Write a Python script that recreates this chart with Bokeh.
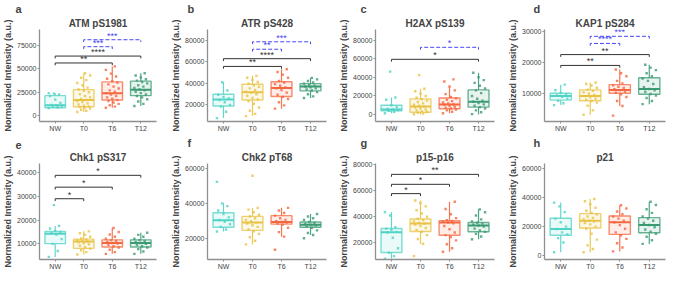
from bokeh.plotting import figure
from bokeh.layouts import row, column
from bokeh.models import Range1d, FixedTicker, PrintfTickFormatter, Title
from bokeh.core.properties import value
from bokeh.embed import file_html
from bokeh.resources import INLINE

groups = ["NW", "T0", "T6", "T12"]
group_colors = ["#4fd3c6", "#e8c244", "#f4673f", "#3a9a72"]

panel_letters = ["a", "b", "c", "d", "e", "f", "g", "h"]
panel_titles = ["ATM pS1981", "ATR pS428", "H2AX pS139", "KAP1 pS284",
                "Chk1 pS317", "Chk2 pT68", "p15-p16", "p21"]
y_label = "Normalized Intensity (a.u.)"

y_limits = [(-6500, 92500), (3800, 90500), (-7400, 91300), (900, 30600),
            (3400, 44000), (7700, 63100), (7400, 80700), (-2800, 63700)]
y_ticks = [[0, 25000, 50000, 75000], [20000, 40000, 60000, 80000],
           [0, 20000, 40000, 60000, 80000], [10000, 20000, 30000],
           [10000, 20000, 30000, 40000], [20000, 40000, 60000],
           [20000, 40000, 60000, 80000], [0, 20000, 40000, 60000]]

# box stats (thousands): lower whisker, q1, median, q3, upper whisker
box_a = [(8.0, 8.3, 11.1, 21.3, 24.0), (3.7, 9.3, 16.7, 27.8, 45.4), (8.3, 16.7, 24.0, 36.1, 52.8), (10.2, 21.3, 27.8, 37.0, 45.4)]
box_b = [(7.0, 18.4, 24.6, 29.5, 40.8), (8.9, 24.0, 31.4, 38.9, 46.8), (15.9, 27.3, 35.4, 41.3, 53.0), (25.9, 32.7, 36.8, 39.5, 44.9)]
box_c = [(1.5, 4.0, 5.5, 10.1, 18.4), (0.0, 2.5, 8.6, 16.9, 27.7), (1.5, 6.2, 10.8, 17.8, 30.1), (0.0, 8.0, 13.8, 26.5, 44.9)]
box_d = [(6.2, 7.8, 9.1, 10.0, 12.8), (3.1, 7.6, 9.1, 11.1, 13.5), (5.9, 10.0, 11.1, 12.8, 17.7), (6.5, 9.7, 11.4, 15.0, 19.2)]
box_e = [(4.5, 10.1, 14.3, 15.25, 17.6), (5.5, 8.1, 11.0, 12.0, 15.3), (5.8, 8.7, 10.4, 11.7, 16.7), (5.8, 8.7, 10.4, 11.7, 14.7)]
box_f = [(23.9, 26.3, 30.3, 34.7, 40.1), (16.4, 24.5, 29.0, 32.6, 37.5), (20.9, 28.1, 29.3, 33.0, 37.5), (21.8, 26.3, 27.8, 29.3, 34.0)]
box_g = [(8.1, 12.7, 28.3, 31.1, 43.6), (19.3, 28.8, 34.9, 38.3, 52.4), (13.3, 25.9, 35.6, 37.1, 51.5), (22.9, 28.6, 33.4, 35.7, 45.7)]
box_h = [(2.2, 14.0, 18.3, 25.8, 36.6), (2.2, 19.0, 24.1, 29.0, 39.1), (2.8, 14.6, 23.0, 27.3, 34.8), (8.0, 15.7, 21.1, 26.2, 37.2)]

# individual measurements (thousands), per group NW, T0, T6, T12
pts_a = [
    [8.0, 8.6, 9.4, 10.2, 11.0, 11.4, 13.5, 17.0, 21.0, 22.5, 23.5, 24.0],
    [3.7, 5.0, 6.2, 7.5, 8.4, 9.0, 9.8, 10.5, 11.8, 13.0, 14.5, 15.6, 16.7, 17.8, 19.5, 21.0, 23.0, 25.0, 26.5, 28.0, 30.0, 32.5, 35.0, 38.0, 40.5, 43.0, 45.4],
    [8.3, 9.5, 11.0, 12.5, 14.0, 15.5, 16.5, 18.0, 19.5, 21.0, 22.5, 24.0, 25.5, 27.0, 29.0, 31.0, 33.5, 35.5, 37.0, 39.5, 42.0, 45.0, 49.0, 52.8],
    [10.2, 12.5, 15.0, 17.5, 19.5, 21.0, 22.5, 24.0, 25.5, 27.0, 28.0, 29.5, 31.0, 32.5, 34.5, 36.0, 37.5, 39.0, 41.0, 43.0, 45.4]]
pts_b = [
    [7.0, 13.0, 18.0, 19.5, 22.0, 24.0, 25.5, 27.0, 29.0, 33.0, 40.8],
    [8.9, 11.0, 14.0, 17.0, 20.5, 23.0, 24.5, 26.0, 28.0, 29.5, 31.0, 32.0, 33.5, 35.0, 36.5, 38.0, 39.5, 41.0, 43.0, 45.0, 46.8],
    [15.9, 19.0, 22.0, 25.0, 27.0, 29.0, 31.0, 33.5, 35.0, 36.0, 37.5, 39.0, 40.5, 42.0, 45.0, 48.0, 50.5, 53.0],
    [25.9, 27.5, 29.5, 31.5, 33.0, 34.0, 35.0, 36.0, 36.8, 37.5, 38.5, 39.5, 40.5, 42.0, 43.5, 44.9]]
pts_c = [
    [1.5, 3.0, 4.2, 5.0, 5.5, 6.0, 8.0, 10.0, 16.0, 18.4, 46.1],
    [0.3, 1.0, 2.0, 2.8, 3.5, 4.5, 5.5, 6.5, 7.5, 8.6, 9.5, 10.5, 12.0, 13.5, 15.0, 16.5, 18.0, 20.0, 22.5, 25.0, 27.7, 42.4],
    [1.5, 3.0, 4.5, 5.5, 6.5, 7.5, 8.5, 9.5, 10.5, 11.0, 12.0, 13.0, 14.5, 16.0, 17.5, 19.0, 22.0, 26.0, 30.1, 35.5, 37.8],
    [0.5, 2.5, 4.5, 6.5, 8.0, 9.5, 11.0, 12.5, 13.8, 15.0, 17.0, 20.0, 23.0, 26.0, 28.0, 31.0, 34.0, 37.0, 40.0, 44.9]]
pts_d = [
    [6.2, 6.8, 7.6, 8.3, 8.9, 9.3, 9.7, 10.1, 11.0, 12.8],
    [3.1, 4.5, 6.0, 7.0, 7.5, 7.9, 8.3, 8.7, 9.1, 9.5, 9.9, 10.3, 10.8, 11.2, 11.8, 12.5, 13.0, 13.5],
    [2.8, 5.9, 7.5, 8.8, 9.7, 10.2, 10.6, 11.0, 11.3, 11.7, 12.1, 12.6, 13.2, 14.0, 15.5, 16.5, 17.7],
    [6.5, 7.5, 8.5, 9.3, 9.8, 10.5, 11.0, 11.4, 12.0, 13.0, 14.0, 14.8, 15.5, 16.5, 17.5, 18.3, 19.2]]
pts_e = [
    [4.5, 7.0, 10.0, 12.0, 14.0, 14.5, 15.0, 15.5, 16.5, 17.6, 26.4],
    [5.5, 6.5, 7.3, 8.0, 8.6, 9.2, 9.8, 10.3, 10.7, 11.0, 11.3, 11.6, 11.9, 12.3, 13.0, 13.8, 14.5, 15.3],
    [5.8, 6.5, 7.5, 8.5, 9.0, 9.6, 10.1, 10.4, 10.8, 11.2, 11.6, 12.2, 13.0, 14.0, 15.0, 16.7],
    [5.8, 6.8, 7.8, 8.5, 9.0, 9.6, 10.0, 10.4, 10.8, 11.2, 11.6, 12.2, 13.0, 13.8, 14.7]]
pts_f = [
    [23.9, 25.0, 26.5, 28.0, 29.5, 30.5, 32.0, 34.0, 36.0, 38.5, 40.1, 52.5],
    [16.4, 18.5, 20.5, 22.5, 24.0, 25.0, 26.5, 27.5, 28.5, 29.0, 29.8, 30.5, 31.5, 32.5, 33.5, 35.0, 36.5, 37.5, 56.0],
    [13.3, 20.9, 23.5, 26.0, 27.8, 28.5, 29.0, 29.3, 29.8, 30.5, 31.5, 33.0, 34.5, 36.0, 37.5],
    [20.0, 21.8, 23.0, 24.5, 26.0, 26.8, 27.3, 27.8, 28.3, 28.8, 29.3, 30.5, 31.5, 32.5, 34.0]]
pts_g = [
    [8.1, 10.0, 12.5, 16.0, 24.0, 28.0, 28.5, 30.0, 31.0, 32.0, 41.0, 43.6],
    [10.0, 19.3, 23.0, 26.0, 28.5, 30.0, 31.5, 33.0, 34.0, 34.9, 35.5, 36.5, 37.5, 38.5, 40.0, 42.5, 45.0, 48.0, 50.5, 52.4],
    [13.3, 16.0, 19.0, 22.0, 24.5, 26.0, 28.0, 30.5, 33.0, 35.0, 35.6, 36.2, 36.8, 37.5, 39.0, 42.0, 46.0, 51.5],
    [22.9, 25.0, 27.0, 28.5, 29.5, 31.0, 32.5, 33.4, 34.0, 34.8, 35.5, 36.5, 38.0, 41.0, 43.5, 45.7]]
pts_h = [
    [2.2, 9.0, 12.0, 14.5, 16.0, 18.3, 20.0, 23.0, 25.5, 30.0, 34.0, 36.6],
    [2.2, 4.5, 7.0, 11.0, 15.0, 18.5, 20.0, 21.5, 22.5, 23.5, 24.1, 25.0, 26.0, 27.0, 28.5, 29.5, 31.0, 33.0, 35.5, 37.5, 39.1],
    [2.8, 5.5, 8.5, 11.5, 14.0, 16.0, 18.5, 21.0, 23.0, 24.0, 25.5, 27.0, 28.5, 30.5, 32.5, 34.8],
    [8.0, 10.5, 13.0, 15.0, 16.5, 18.0, 19.5, 21.1, 22.5, 24.0, 25.5, 27.0, 29.5, 32.0, 35.0, 37.2]]

# significance brackets: (group from, group to, level in thousands, label, kind k=black / b=blue dashed)
brk_a = [("NW", "T6", 56.5, "**", "k"), ("NW", "T12", 63.9, "****", "k"), ("T0", "T6", 74.0, "***", "b"), ("T0", "T12", 81.5, "***", "b")]
brk_b = [("NW", "T6", 55.7, "**", "k"), ("NW", "T12", 63.0, "****", "k"), ("T0", "T6", 71.9, "**", "b"), ("T0", "T12", 78.9, "***", "b")]
brk_c = [("NW", "T12", 59.3, "*", "k"), ("T0", "T12", 72.2, "*", "b")]
brk_d = [("NW", "T6", 19.0, "**", "k"), ("NW", "T12", 22.5, "**", "k"), ("T0", "T6", 26.1, "****", "b"), ("T0", "T12", 28.4, "***", "b")]
brk_e = [("NW", "T0", 29.1, "*", "k"), ("NW", "T6", 34.0, "*", "k"), ("NW", "T12", 39.0, "*", "k")]
brk_f = []
brk_g = [("NW", "T0", 57.7, "*", "k"), ("NW", "T6", 64.8, "*", "k"), ("NW", "T12", 72.4, "**", "k")]
brk_h = []

all_boxes = [box_a, box_b, box_c, box_d, box_e, box_f, box_g, box_h]
all_pts = [pts_a, pts_b, pts_c, pts_d, pts_e, pts_f, pts_g, pts_h]
all_brk = [brk_a, brk_b, brk_c, brk_d, brk_e, brk_f, brk_g, brk_h]

# layout
col_widths = [168, 168, 166, 167]
col_border_left = [0, 0, 36, 42]
col_border_right = [12, 10, 8, 4]
col_letter_offset = [-24, -20, -15, -11]
row_heights = [134, 138]
row_border_top = [0, 29]

FONT = "Liberation Sans"
pos = {g: i + 1 for i, g in enumerate(groups)}


def make_panel(i):
    c = i % 4
    r = i // 4
    ylo, yhi = y_limits[i]
    p = figure(width=col_widths[c], height=row_heights[r],
               x_range=Range1d(0.45, 4.55), y_range=Range1d(ylo, yhi),
               output_backend="svg", toolbar_location=None,
               min_border_left=col_border_left[c], min_border_right=col_border_right[c],
               min_border_top=row_border_top[r], min_border_bottom=0)
    # panel letter (outermost) and panel title (closest to the frame)
    p.title.text = panel_letters[i]
    p.title.align = "left"
    p.title.offset = col_letter_offset[c]
    p.title.text_font = FONT
    p.title.text_font_size = "11px"
    p.title.text_font_style = "bold"
    p.title.standoff = 0
    p.add_layout(Title(text=panel_titles[i], align="center",
                       text_font=FONT, text_font_size="10px", text_font_style="bold",
                       standoff=2), "above")
    p.outline_line_color = None
    p.grid.visible = False

    for ax in (p.xaxis[0], p.yaxis[0]):
        ax.axis_line_color = "#8f8f8f"
        ax.axis_line_width = 1.3
        ax.major_tick_line_color = "#8f8f8f"
        ax.major_tick_out = 2
        ax.major_tick_in = 0
        ax.minor_tick_line_color = None
        ax.major_label_text_font = FONT
        ax.major_label_text_font_size = "7px"
        ax.major_label_text_color = "#444444"
        ax.major_label_standoff = 1
    p.xaxis.ticker = FixedTicker(ticks=[1, 2, 3, 4])
    p.xaxis.major_label_overrides = {pos[g]: g for g in groups}
    p.yaxis.ticker = FixedTicker(ticks=y_ticks[i])
    p.yaxis.formatter = PrintfTickFormatter(format="%d")
    p.yaxis.axis_label = y_label
    p.yaxis.axis_label_text_font = FONT
    p.yaxis.axis_label_text_font_size = "9px"
    p.yaxis.axis_label_text_font_style = "bold"
    p.yaxis.axis_label_standoff = 1

    boxes = all_boxes[i]
    pts = all_pts[i]
    for gi, g in enumerate(groups):
        x = pos[g]
        lo, q1, med, q3, hi = [v * 1000 for v in boxes[gi]]
        col = group_colors[gi]
        p.segment(x0=[x, x], y0=[q3, q1], x1=[x, x], y1=[hi, lo],
                  line_color=col, line_width=1.2, line_alpha=0.9)
        p.vbar(x=[x], width=0.72, top=[q3], bottom=[q1], fill_color=col,
               fill_alpha=0.12, line_color=col, line_width=1.4, line_alpha=0.75)
        p.segment(x0=[x - 0.36], x1=[x + 0.36], y0=[med], y1=[med],
                  line_color=col, line_width=2)
        vals = pts[gi]
        xs = [x + ((k * 7) % 11 - 5) * 0.045 for k in range(len(vals))]
        p.scatter(x=xs, y=[v * 1000 for v in vals], size=2.4, marker="square",
                  color=col, alpha=0.8, line_width=0)

    drop = 0.025 * (yhi - ylo)
    for (g1, g2, lev, lab, kind) in all_brk[i]:
        yv = lev * 1000
        colr = "#333333" if kind == "k" else "#4646f5"
        dash = "solid" if kind == "k" else "4 2"
        x1, x2 = pos[g1], pos[g2]
        p.line(x=[x1, x1, x2, x2], y=[yv - drop, yv, yv, yv - drop],
               line_color=colr, line_width=1, line_dash=dash)
        p.text(x=[(x1 + x2) / 2], y=[yv], text=[lab], text_align="center",
               text_baseline="bottom", text_font=value(FONT),
               text_font_size="9px", text_color=colr, y_offset=1)
    return p


figs = [make_panel(i) for i in range(8)]
layout = column(row(*figs[:4]), row(*figs[4:]))
open("out.html", "w").write(file_html(layout, INLINE))
